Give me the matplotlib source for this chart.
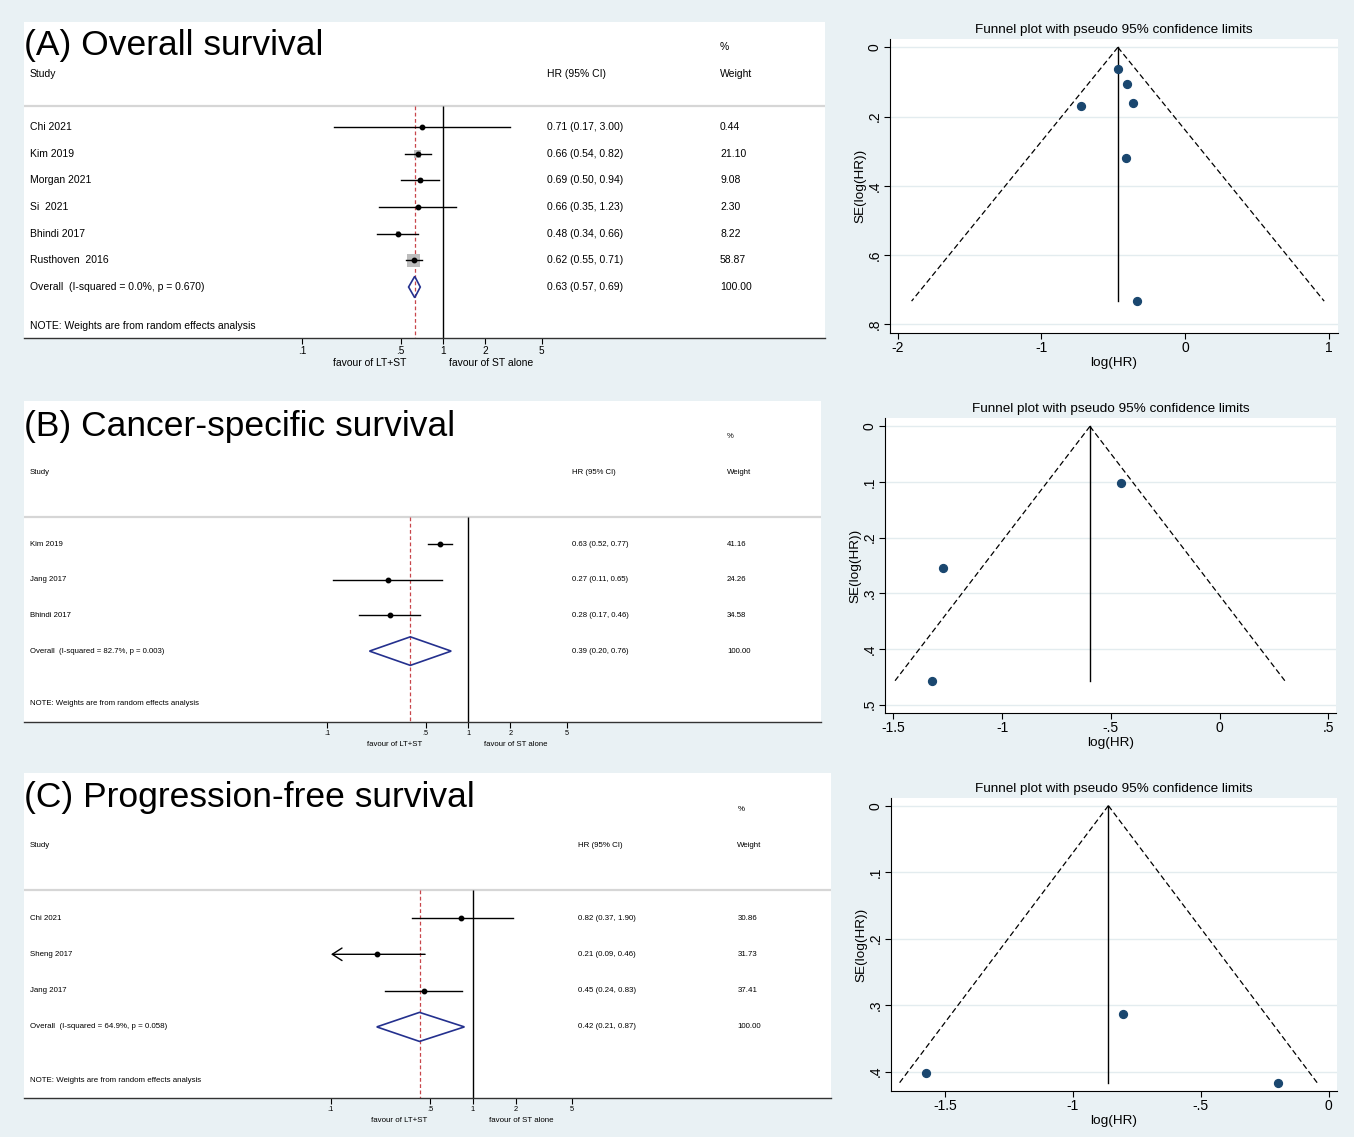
import matplotlib.pyplot as plt
import numpy as np
from matplotlib.transforms import blended_transform_factory

plt.rcParams['font.family'] = ['Liberation Sans', 'DejaVu Sans']

W, H = 1354, 1137
BG = "#E9F1F4"
NAVY = "#1A476F"
DIAMOND = "#24308E"
RED = "#C8464B"

# <---------------- (A) Overall survival ---------------->
a_study = ["Chi 2021", "Kim 2019", "Morgan 2021", "Si  2021", "Bhindi 2017", "Rusthoven  2016"]
a_hr = [0.71, 0.66, 0.69, 0.66, 0.48, 0.62]
a_lo = [0.17, 0.54, 0.50, 0.35, 0.34, 0.55]
a_hi = [3.00, 0.82, 0.94, 1.23, 0.66, 0.71]
a_weight = [0.44, 21.10, 9.08, 2.30, 8.22, 58.87]
a_overall = [0.63, 0.57, 0.69]
a_overall_label = "Overall  (I-squared = 0.0%, p = 0.670)"

# <---------------- (B) Cancer-specific survival ---------------->
b_study = ["Kim 2019", "Jang 2017", "Bhindi 2017"]
b_hr = [0.63, 0.27, 0.28]
b_lo = [0.52, 0.11, 0.17]
b_hi = [0.77, 0.65, 0.46]
b_weight = [41.16, 24.26, 34.58]
b_overall = [0.39, 0.20, 0.76]
b_overall_label = "Overall  (I-squared = 82.7%, p = 0.003)"

# <---------------- (C) Progression-free survival ---------------->
c_study = ["Chi 2021", "Sheng 2017", "Jang 2017"]
c_hr = [0.82, 0.21, 0.45]
c_lo = [0.37, 0.09, 0.24]
c_hi = [1.90, 0.46, 0.83]
c_weight = [30.86, 31.73, 37.41]
c_overall = [0.42, 0.21, 0.87]
c_overall_label = "Overall  (I-squared = 64.9%, p = 0.058)"

# <---------------- Funnel plots (log(HR), SE) ---------------->
fa_loghr = [-0.337, -0.404, -0.365, -0.411, -0.727, -0.467]
fa_se = [0.733, 0.106, 0.161, 0.320, 0.169, 0.063]
fa_center = -0.467
fb_loghr = [-0.453, -1.271, -1.320]
fb_se = [0.101, 0.254, 0.457]
fb_center = -0.596
fc_loghr = [-0.803, -1.576, -0.198]
fc_se = [0.313, 0.4025, 0.4166]
fc_center = -0.861

xticks_forest = [0.1, 0.5, 1, 2, 5]
xticklabels_forest = [".1", ".5", "1", "2", "5"]

fig = plt.figure(figsize=(W / 100, H / 100), dpi=100)
fig.patch.set_facecolor(BG)


def px_rect(left, top, right, bottom):
    return [left / W, 1 - bottom / H, (right - left) / W, (bottom - top) / H]


def forest(box, x1, dec, row0, step, title, title_y, study, hr, lo, hi, weight,
           overall, overall_label, fs, col_hr, col_w, fav_off, boxes=False):
    left, top, right, bottom = box
    ax = fig.add_axes(px_rect(*box))
    ax.set_facecolor("white")
    ax.set_xscale("log")
    ax.set_xlim(10 ** ((left - x1) / dec), 10 ** ((right - x1) / dec))
    ax.set_ylim((bottom - row0) / step, (top - row0) / step)
    ybot = (bottom - row0) / step
    n = len(study)
    rows = np.arange(n)
    head = -0.77
    tr = blended_transform_factory(ax.transAxes, ax.transData)
    xtxt = 6 / (right - left)

    # cabecera
    ax.text(0.0, title_y, title, transform=tr, fontsize=25.5, va="center", ha="left")
    ax.text(xtxt, -2, "Study", transform=tr, fontsize=fs, va="center")
    ax.text(col_hr, -2, "HR (95% CI)", transform=tr, fontsize=fs, va="center")
    ax.text(col_w, -3, "%", transform=tr, fontsize=fs, va="center")
    ax.text(col_w, -2, "Weight", transform=tr, fontsize=fs, va="center")
    ax.axhline(head, color="#D6D6D6", lw=1.6)

    # lineas de referencia
    ax.vlines(1, head, ybot, color="black", lw=1.0)
    ax.vlines(overall[0], head, ybot, color=RED, lw=0.9, linestyles=(0, (3, 2)))

    xmin = xticks_forest[0]
    for i in rows:
        if boxes:
            ax.scatter(hr[i], i, marker="s", s=1.5 * weight[i], color="#BDBDBD",
                       edgecolor="none", zorder=2)
        if lo[i] < xmin:
            ax.annotate("", xy=(xmin, i), xytext=(hi[i], i),
                        arrowprops=dict(arrowstyle="->,head_length=0.7,head_width=0.45",
                                        color="black", lw=1.0, shrinkA=0, shrinkB=0))
        else:
            ax.plot([lo[i], hi[i]], [i, i], color="black", lw=1.0, zorder=3)
        ax.plot(hr[i], i, "o", color="black", ms=3.2, zorder=4)
        ax.text(xtxt, i, study[i], transform=tr, fontsize=fs, va="center")
        ax.text(col_hr, i, "%.2f (%.2f, %.2f)" % (hr[i], lo[i], hi[i]),
                transform=tr, fontsize=fs, va="center")
        ax.text(col_w, i, "%.2f" % weight[i], transform=tr, fontsize=fs, va="center")

    # diamante global
    est, olo, ohi = overall
    ax.fill([olo, est, ohi, est, olo], [n, n - 0.4, n, n + 0.4, n],
            facecolor="none", edgecolor=DIAMOND, lw=1.2, zorder=4)
    ax.text(xtxt, n, overall_label, transform=tr, fontsize=fs, va="center")
    ax.text(col_hr, n, "%.2f (%.2f, %.2f)" % (est, olo, ohi),
            transform=tr, fontsize=fs, va="center")
    ax.text(col_w, n, "%.2f" % 100, transform=tr, fontsize=fs, va="center")
    ax.text(xtxt, n + 1.48, "NOTE: Weights are from random effects analysis",
            transform=tr, fontsize=fs, va="center")

    for s in ["top", "left", "right"]:
        ax.spines[s].set_visible(False)
    ax.spines["bottom"].set_color("#333333")
    ax.spines["bottom"].set_linewidth(1.0)
    ax.set_yticks([])
    ax.set_xticks(xticks_forest)
    ax.set_xticklabels(xticklabels_forest)
    ax.minorticks_off()
    ax.tick_params(axis="x", length=4, width=0.8, labelsize=fs - 0.3, pad=2)
    for lbl, xx in [("favour of LT+ST", 0.30), ("favour of ST alone", 2.18)]:
        ax.annotate(lbl, xy=(xx, 0), xycoords=("data", "axes fraction"),
                    xytext=(0, -fav_off), textcoords="offset points",
                    ha="center", va="center", fontsize=fs)
    return ax


def funnel(box, xlim, ylim, xticks, xticklabels, yticks, yticklabels, x, se, center):
    ax = fig.add_axes(px_rect(*box))
    ax.set_facecolor("white")
    for yt in yticks:
        ax.axhline(yt, color="#E3ECEF", lw=1.0, zorder=0)
    semax = max(se)
    ax.plot([center, center], [0, semax], color="black", lw=1.0)
    ax.plot([center, center - 1.96 * semax], [0, semax], color="black", lw=0.9,
            ls=(0, (4.5, 2.5)))
    ax.plot([center, center + 1.96 * semax], [0, semax], color="black", lw=0.9,
            ls=(0, (4.5, 2.5)))
    ax.scatter(x, se, s=32, color=NAVY, zorder=3)
    ax.set_xlim(xlim)
    ax.set_ylim(ylim[1], ylim[0])
    ax.set_xticks(xticks)
    ax.set_xticklabels(xticklabels)
    ax.set_yticks(yticks)
    ax.set_yticklabels(yticklabels, rotation=90, va="center")
    ax.tick_params(length=4, width=0.8, labelsize=10, pad=2)
    for s in ["top", "right"]:
        ax.spines[s].set_visible(False)
    ax.set_title("Funnel plot with pseudo 95% confidence limits", fontsize=9.7, pad=4)
    ax.set_xlabel("log(HR)", fontsize=9.7, labelpad=1)
    ax.set_ylabel("SE(log(HR))", fontsize=9.7, labelpad=1)
    return ax


forest((24, 22, 825, 338), 443, 141, 127, 26.67, "(A) Overall survival", -3.05,
       a_study, a_hr, a_lo, a_hi, a_weight, a_overall, a_overall_label,
       7.5, 0.653, 0.869, 18, boxes=True)
forest((24, 401, 821, 722), 468, 141, 544, 35.7, "(B) Cancer-specific survival", -3.28,
       b_study, b_hr, b_lo, b_hi, b_weight, b_overall, b_overall_label,
       5.6, 0.688, 0.882, 16)
forest((24, 773, 831, 1098), 473, 142, 918, 36.3, "(C) Progression-free survival", -3.31,
       c_study, c_hr, c_lo, c_hi, c_weight, c_overall, c_overall_label,
       5.7, 0.686, 0.884, 16.5)

funnel((890, 39, 1338, 333), (-2.054, 1.066), (-0.024, 0.825),
       [-2, -1, 0, 1], ["-2", "-1", "0", "1"],
       [0, 0.2, 0.4, 0.6, 0.8], ["0", ".2", ".4", ".6", ".8"],
       fa_loghr, fa_se, fa_center)
funnel((885, 418, 1336, 713), (-1.538, 0.535), (-0.015, 0.515),
       [-1.5, -1, -0.5, 0, 0.5], ["-1.5", "-1", "-.5", "0", ".5"],
       [0, 0.1, 0.2, 0.3, 0.4, 0.5], ["0", ".1", ".2", ".3", ".4", ".5"],
       fb_loghr, fb_se, fb_center)
funnel((891, 798, 1337, 1091), (-1.711, 0.033), (-0.0115, 0.429),
       [-1.5, -1, -0.5, 0], ["-1.5", "-1", "-.5", "0"],
       [0, 0.1, 0.2, 0.3, 0.4], ["0", ".1", ".2", ".3", ".4"],
       fc_loghr, fc_se, fc_center)

plt.savefig("out.png", dpi=100, facecolor=BG)
